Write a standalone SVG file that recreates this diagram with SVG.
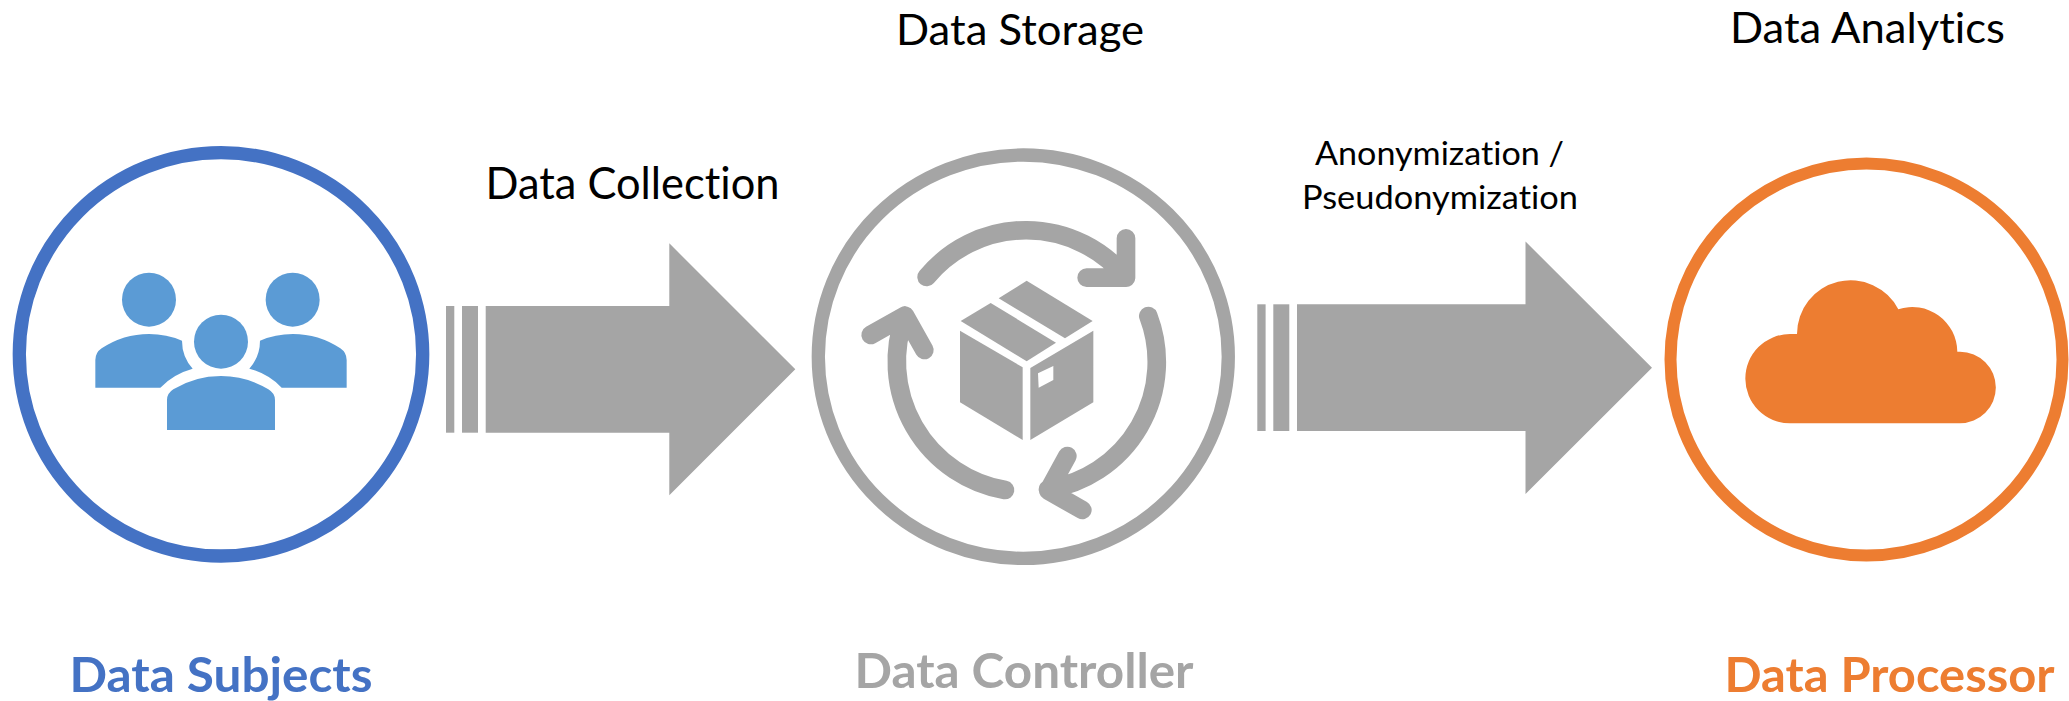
<svg xmlns="http://www.w3.org/2000/svg" width="2069" height="701" viewBox="0 0 2069 701">
<style>
text{font-family:Lato,"Open Sans","Liberation Sans",sans-serif;fill:#000;font-variant-ligatures:none}
.b{font-weight:700}
.ring{fill:#fff;stroke-width:13.3}
.gray{fill:#A5A5A5}
.blue{fill:#5B9BD5}
.orange{fill:#ED7D31}
.cyc{fill:none;stroke:#A5A5A5;stroke-width:56;stroke-linecap:round;stroke-linejoin:round}
</style>
<rect width="2069" height="701" fill="#fff"/>
<g id="connectors">
<g id="arrow-collection" class="gray">
<rect x="446" y="306" width="8.3" height="126.7"/>
<rect x="462" y="306" width="16" height="126.7"/>
<polygon points="485.7,306 669.3,306 669.3,243.3 795.3,369.3 669.3,495.3 669.3,432.7 485.7,432.7"/>
</g>
<g id="arrow-anonymization" class="gray">
<rect x="1257.3" y="304.3" width="8.3" height="126.7"/>
<rect x="1273.3" y="304.3" width="16" height="126.7"/>
<polygon points="1297,304.3 1525.5,304.3 1525.5,241.5 1652,367.7 1525.5,494 1525.5,431 1297,431"/>
</g>
</g>
<g id="node-subjects">
<circle class="ring" cx="221" cy="354.3" r="201.7" stroke="#4472C4"/>
<g transform="translate(0,130) scale(.33333)" class="blue">
<circle cx="447" cy="509" r="81"/>
<circle cx="878" cy="509" r="81"/>
<circle cx="663" cy="635" r="81"/>
<path d="M501 900V810Q501 790 520 778Q585 738 663 738Q740 738 805 778Q825 790 825 810V900Z"/>
<path d="M286 773V690Q286 668 305 655Q370 612 447 612Q500 612 546 632Q546 680 578 716Q520 732 481 773Z"/>
<path d="M1040 773V690Q1040 668 1021 655Q956 612 879 612Q826 612 780 632Q780 680 748 716Q806 732 845 773Z"/>
</g>
<text class="b" x="69.500" y="691.7" font-size="48" style="fill:#4472C4" textLength="303" lengthAdjust="spacingAndGlyphs">Data Subjects</text>
</g>
<g id="node-controller">
<ellipse class="ring" cx="1023.3" cy="356.7" rx="205" ry="201.7" stroke="#A5A5A5"/>
<g transform="translate(800,130) scale(.33333)">
<path class="cyc" d="M380 441A387 387 0 0 1 978 443M978 325V443H860"/>
<path class="cyc" d="M1045 558A387 387 0 0 1 744 1078M802 978L745 1082L847 1140"/>
<path class="cyc" d="M615 1080A392 392 0 0 1 315 557M212 615L315 557L373 660"/>
<g class="gray">
<polygon points="482,573 572,519 768,638 680,694"/>
<polygon points="596,505 680,452 878,573 795,625"/>
<polygon points="480,602 668,712 668,930 480,817"/>
<path fill-rule="evenodd" d="M691 714L880 602V817L691 930ZM714 730L760 708V750L716 773Z"/>
</g>
</g>
<text class="b" x="854.500" y="688.3" font-size="48" style="fill:#A5A5A5" textLength="339" lengthAdjust="spacingAndGlyphs">Data Controller</text>
</g>
<g id="node-processor">
<ellipse class="ring" cx="1866.5" cy="359.5" rx="196" ry="196" stroke="#ED7D31" style="stroke-width:12"/>
<path class="orange" transform="translate(1650,130) scale(.33333)" d="M420 880A134 134 0 0 1 420 612H441A161 161 0 0 1 745 538A135 135 0 0 1 922 665H930A107.500 107.500 0 0 1 930 880Z"/>
<text class="b" x="1724.500" y="691.7" font-size="48" style="fill:#ED7D31" textLength="330" lengthAdjust="spacingAndGlyphs">Data Processor</text>
</g>
<g id="labels">
<text x="485.500" y="199" font-size="44" textLength="294" lengthAdjust="spacingAndGlyphs">Data Collection</text>
<text x="896" y="45" font-size="42" textLength="248" lengthAdjust="spacingAndGlyphs">Data Storage</text>
<text x="1730" y="43.3" font-size="43" textLength="275" lengthAdjust="spacingAndGlyphs">Data Analytics</text>
<text x="1315" y="165" font-size="33" textLength="249" lengthAdjust="spacingAndGlyphs">Anonymization /</text>
<text x="1302" y="209.3" font-size="33" textLength="276" lengthAdjust="spacingAndGlyphs">Pseudonymization</text>
</g>
</svg>
